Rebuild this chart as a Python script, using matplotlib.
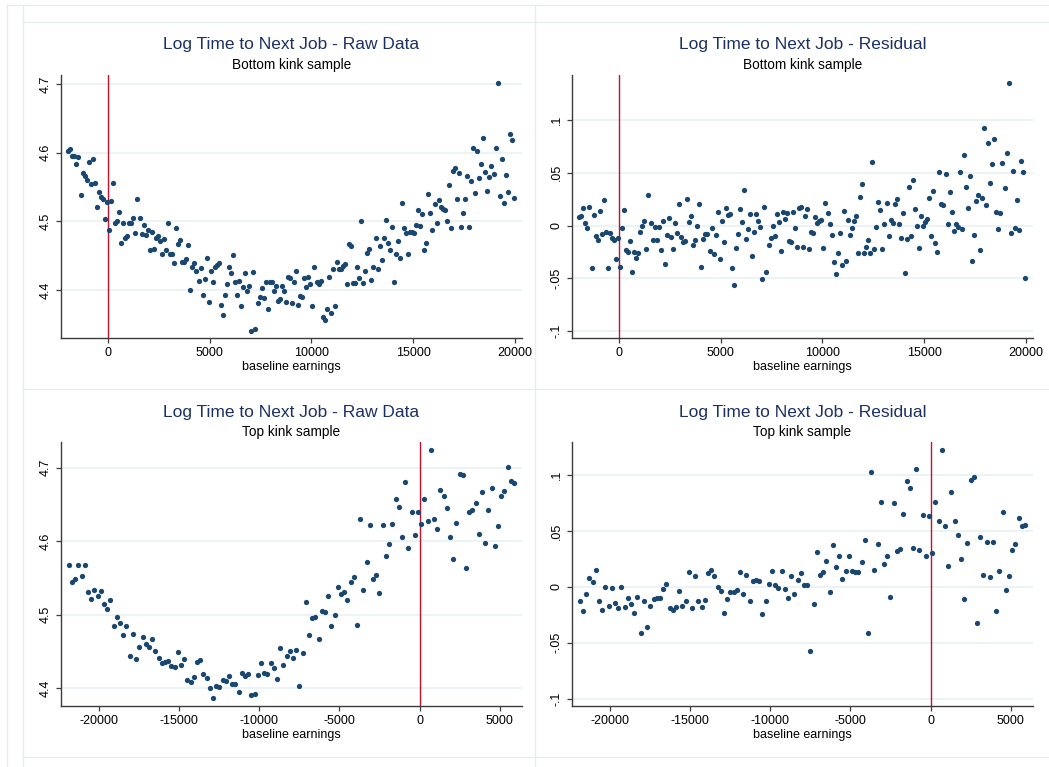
import matplotlib.pyplot as plt
from matplotlib.lines import Line2D

plt.rcParams['font.family'] = ['Liberation Sans', 'DejaVu Sans']

# ---- data ----
# bottom kink sample: bin midpoints of baseline earnings
x_bottom = [
    -1950, -1850, -1750, -1650, -1550, -1450, -1350, -1250, -1150, -1050,
    -950, -850, -750, -650, -550, -450, -350, -250, -150, -50,
    50, 150, 250, 350, 450, 550, 650, 750, 850, 950,
    1050, 1150, 1250, 1350, 1450, 1550, 1650, 1750, 1850, 1950,
    2050, 2150, 2250, 2350, 2450, 2550, 2650, 2750, 2850, 2950,
    3050, 3150, 3250, 3350, 3450, 3550, 3650, 3750, 3850, 3950,
    4050, 4150, 4250, 4350, 4450, 4550, 4650, 4750, 4850, 4950,
    5050, 5150, 5250, 5350, 5450, 5550, 5650, 5750, 5850, 5950,
    6050, 6150, 6250, 6350, 6450, 6550, 6650, 6750, 6850, 6950,
    7050, 7150, 7250, 7350, 7450, 7550, 7650, 7750, 7850, 7950,
    8050, 8150, 8250, 8350, 8450, 8550, 8650, 8750, 8850, 8950,
    9050, 9150, 9250, 9350, 9450, 9550, 9650, 9750, 9850, 9950,
    10050, 10150, 10250, 10350, 10450, 10550, 10650, 10750, 10850, 10950,
    11050, 11150, 11250, 11350, 11450, 11550, 11650, 11750, 11850, 11950,
    12050, 12150, 12250, 12350, 12450, 12550, 12650, 12750, 12850, 12950,
    13050, 13150, 13250, 13350, 13450, 13550, 13650, 13750, 13850, 13950,
    14050, 14150, 14250, 14350, 14450, 14550, 14650, 14750, 14850, 14950,
    15050, 15150, 15250, 15350, 15450, 15550, 15650, 15750, 15850, 15950,
    16050, 16150, 16250, 16350, 16450, 16550, 16650, 16750, 16850, 16950,
    17050, 17150, 17250, 17350, 17450, 17550, 17650, 17750, 17850, 17950,
    18050, 18150, 18250, 18350, 18450, 18550, 18650, 18750, 18850, 18950,
    19050, 19150, 19250, 19350, 19450, 19550, 19650, 19750, 19850, 19950,
]

raw_bottom = [
    4.603, 4.605, 4.595, 4.595, 4.583, 4.593, 4.538, 4.571, 4.566, 4.560,
    4.586, 4.554, 4.590, 4.555, 4.521, 4.542, 4.535, 4.533, 4.503, 4.528,
    4.487, 4.530, 4.556, 4.497, 4.501, 4.513, 4.468, 4.497, 4.476, 4.479,
    4.498, 4.498, 4.505, 4.483, 4.532, 4.505, 4.482, 4.494, 4.480, 4.487,
    4.458, 4.484, 4.460, 4.475, 4.478, 4.471, 4.452, 4.474, 4.458, 4.498,
    4.452, 4.452, 4.439, 4.490, 4.467, 4.473, 4.440, 4.441, 4.445, 4.466,
    4.400, 4.433, 4.439, 4.428, 4.413, 4.432, 4.392, 4.416, 4.447, 4.383,
    4.428, 4.411, 4.434, 4.436, 4.439, 4.378, 4.364, 4.392, 4.409, 4.433,
    4.425, 4.451, 4.412, 4.392, 4.413, 4.376, 4.404, 4.424, 4.399, 4.405,
    4.340, 4.426, 4.343, 4.381, 4.390, 4.403, 4.388, 4.411, 4.372, 4.412,
    4.412, 4.399, 4.406, 4.384, 4.387, 4.405, 4.399, 4.383, 4.419,
    4.417, 4.381, 4.411, 4.427, 4.378, 4.391, 4.389, 4.417, 4.404, 4.419,
    4.408, 4.377, 4.434, 4.412, 4.408, 4.413, 4.361, 4.356, 4.372, 4.419,
    4.367, 4.430, 4.377, 4.440, 4.430, 4.431, 4.435, 4.438, 4.408, 4.467,
    4.464, 4.410, 4.410, 4.434, 4.417, 4.500, 4.410, 4.427, 4.454, 4.460,
    4.414, 4.433, 4.475, 4.430, 4.464, 4.443, 4.475, 4.502, 4.468, 4.458,
    4.491, 4.412, 4.453, 4.471, 4.446, 4.527, 4.490, 4.483, 4.452, 4.484,
    4.485, 4.483, 4.494, 4.516, 4.493, 4.510, 4.458, 4.468, 4.539, 4.512,
    4.488, 4.525, 4.497, 4.531, 4.521, 4.518, 4.516, 4.501, 4.553, 4.490,
    4.573, 4.577, 4.533, 4.570, 4.491, 4.512, 4.533, 4.566, 4.492, 4.558,
    4.606, 4.541, 4.602, 4.563, 4.584, 4.621, 4.572, 4.544, 4.565, 4.581,
    4.569, 4.606, 4.701, 4.537, 4.590, 4.526, 4.567, 4.542, 4.627, 4.619,
    4.534,
]

resid_bottom = [
    0.008, 0.009, 0.017, 0.002, -0.002, 0.018, -0.040, 0.010, -0.010, -0.014,
    0.014, -0.008, 0.024, -0.006, -0.040, -0.007, -0.012, -0.014, -0.032, -0.012,
    -0.039, -0.002, 0.015, -0.023, -0.025, -0.015, -0.044, -0.025, -0.031, -0.026,
    -0.006, 0.000, 0.004, -0.022, 0.029, 0.002, -0.014, -0.001, -0.014, -0.001,
    -0.023, 0.004, -0.036, -0.009, 0.007, -0.011, -0.022, 0.002, -0.007, 0.020,
    -0.011, -0.016, -0.015, 0.025, 0.003, 0.009, -0.018, -0.014, 0.000, 0.020,
    -0.039, -0.013, -0.008, -0.008, -0.024, -0.002, -0.027, -0.009, 0.013, -0.032,
    0.004, -0.016, 0.017, 0.010, 0.011, -0.040, -0.056, -0.021, -0.008, 0.016,
    0.003, 0.034, -0.013, -0.003, 0.011, -0.029, -0.006, 0.011, 0.004, -0.001,
    -0.051, 0.018, -0.044, -0.018, -0.012, 0.000, -0.010, 0.011, 0.003, -0.024,
    0.013, 0.006, 0.012, -0.015, -0.016, 0.013, -0.002, -0.020, 0.017,
    0.018, -0.020, 0.009, 0.016, -0.022, -0.006, -0.007, 0.008, 0.002, 0.004,
    0.005, -0.021, 0.021, 0.012, 0.001, -0.009, -0.035, -0.046, -0.026, -0.007,
    -0.037, 0.014, -0.034, 0.005, -0.009, -0.002, 0.004, 0.009, -0.026, 0.027,
    0.039, -0.026, -0.020, -0.014, -0.026, 0.060, -0.022, -0.001, 0.022, 0.015,
    -0.022, 0.001, 0.021, -0.010, 0.005, 0.002, 0.020, 0.025, 0.001, -0.012,
    0.012, -0.045, -0.013, 0.037, -0.010, 0.043, 0.016, 0.000, -0.021, 0.009,
    0.000, 0.003, 0.006, 0.026, -0.010, 0.033, -0.017, -0.025, 0.051, 0.020,
    0.019, 0.049, 0.001, 0.032, 0.013, -0.005, 0.001, -0.001, 0.051, -0.003,
    0.067, 0.037, 0.017, 0.047, -0.034, -0.009, 0.023, 0.029, -0.023, 0.026,
    0.092, 0.019, 0.078, 0.040, 0.058, 0.082, 0.013, -0.003, 0.012, 0.059,
    0.036, 0.069, 0.135, -0.007, 0.052, -0.002, 0.024, -0.004, 0.061, 0.051,
    -0.050,
]

# top kink sample: bin midpoints of baseline earnings
x_top = [
    -21900, -21700, -21500, -21300, -21100, -20900, -20700, -20500, -20300, -20100,
    -19900, -19700, -19500, -19300, -19100, -18900, -18700, -18500, -18300, -18100,
    -17900, -17700, -17500, -17300, -17100, -16900, -16700, -16500, -16300, -16100,
    -15900, -15700, -15500, -15300, -15100, -14900, -14700, -14500, -14300, -14100,
    -13900, -13700, -13500, -13300, -13100, -12900, -12700, -12500, -12300, -12100,
    -11900, -11700, -11500, -11300, -11100, -10900, -10700, -10500, -10300, -10100,
    -9900, -9700, -9500, -9300, -9100, -8900, -8700, -8500, -8300, -8100,
    -7900, -7700, -7500, -7300, -7100, -6900, -6700, -6500, -6300, -6100,
    -5900, -5700, -5500, -5300, -5100, -4900, -4700, -4500, -4300, -4100,
    -3900, -3700, -3500, -3300, -3100, -2900, -2700, -2500, -2300, -2100,
    -1900, -1700, -1500, -1300, -1100, -900, -700, -500, -300, -100,
    100, 300, 500, 700, 900, 1100, 1300, 1500, 1700, 1900,
    2100, 2300, 2500, 2700, 2900, 3100, 3300, 3500, 3700, 3900,
    4100, 4300, 4500, 4700, 4900, 5100, 5300, 5500, 5700, 5900,
]

raw_top = [
    4.568, 4.544, 4.549, 4.568, 4.552, 4.567, 4.531, 4.521, 4.533, 4.525,
    4.532, 4.515, 4.508, 4.520, 4.484, 4.497, 4.489, 4.472, 4.485, 4.443,
    4.474, 4.440, 4.456, 4.469, 4.460, 4.456, 4.467, 4.451, 4.441, 4.434,
    4.435, 4.437, 4.430, 4.429, 4.449, 4.431, 4.440, 4.411, 4.408, 4.415,
    4.435, 4.438, 4.419, 4.414, 4.400, 4.386, 4.403, 4.401, 4.411, 4.410,
    4.416, 4.406, 4.406, 4.395, 4.420, 4.417, 4.419, 4.390, 4.392, 4.418,
    4.434, 4.421, 4.419, 4.434, 4.427, 4.412, 4.455, 4.431, 4.443, 4.451,
    4.441, 4.452, 4.403, 4.447, 4.517, 4.472, 4.495, 4.497, 4.467, 4.505,
    4.503, 4.525, 4.485, 4.500, 4.538, 4.528, 4.531, 4.520, 4.545, 4.551,
    4.486, 4.630, 4.534, 4.571, 4.622, 4.549, 4.554, 4.530, 4.622, 4.580,
    4.596, 4.624, 4.657, 4.646, 4.606, 4.680, 4.591, 4.639, 4.608, 4.640,
    4.624, 4.658, 4.628, 4.724, 4.630, 4.616, 4.669, 4.661, 4.645, 4.605,
    4.575, 4.625, 4.691, 4.690, 4.564, 4.640, 4.643, 4.652, 4.610, 4.667,
    4.597, 4.642, 4.672, 4.593, 4.620, 4.661, 4.668, 4.701, 4.682, 4.679,
]

resid_top = [
    -0.013, -0.022, -0.006, 0.008, 0.004, 0.015, -0.013, -0.021, 0.000, -0.017,
    -0.001, -0.014, -0.019, 0.000, -0.018, -0.010, -0.015, -0.023, -0.009, -0.041,
    -0.013, -0.036, -0.017, -0.011, -0.010, -0.010, -0.002, 0.003, -0.019, -0.021,
    -0.018, -0.004, -0.017, -0.013, 0.013, -0.019, 0.010, -0.013, -0.018, -0.012,
    0.012, 0.015, 0.010, 0.000, -0.004, -0.023, -0.011, -0.005, -0.005, -0.003,
    0.013, -0.006, 0.011, -0.013, 0.005, 0.006, 0.005, -0.024, -0.013, 0.003,
    0.014, 0.002, -0.001, 0.014, -0.002, -0.010, 0.010, -0.006, 0.006, 0.012,
    0.002, 0.002, -0.057, -0.015, 0.031, 0.011, 0.013, 0.023, -0.005, 0.037,
    0.018, 0.028, 0.007, 0.014, 0.028, 0.014, 0.013, 0.013, 0.022, 0.042,
    -0.041, 0.103, 0.015, 0.038, 0.076, 0.020, 0.028, -0.009, 0.075, 0.032,
    0.034, 0.065, 0.095, 0.088, 0.035, 0.105, 0.033, 0.064, 0.028, 0.063,
    0.030, 0.076, 0.059, 0.122, 0.054, 0.019, 0.085, 0.059, 0.046, 0.025,
    -0.011, 0.039, 0.096, 0.098, -0.032, 0.045, 0.011, 0.040, 0.009, 0.040,
    -0.022, 0.014, 0.067, -0.003, 0.010, 0.033, 0.038, 0.062, 0.054, 0.055,
]

raw_ticks = [4.4, 4.5, 4.6, 4.7]
raw_labels = ['4.4', '4.5', '4.6', '4.7']
resid_ticks = [-0.1, -0.05, 0, 0.05, 0.1]
resid_labels = ['-.1', '-.05', '0', '.05', '.1']
bottom_xticks = [0, 5000, 10000, 15000, 20000]
top_xticks = [-20000, -15000, -10000, -5000, 0, 5000]

# ---- styling ----
W, H = 1049, 767
NAVY = '#1a476f'
TITLE_COLOR = '#1c3162'
RED = '#c8102e'
GRID = '#e9f1f2'
FRAME = '#e6eded'
AXIS = '#3c3c3c'


def add_axes_px(fig, left, top, right, bottom):
    return fig.add_axes([left / W, 1 - bottom / H, (right - left) / W, (bottom - top) / H])


def draw_panel(fig, box, x, y, xlim, ylim, xticks, yticks, ylabels, title, subtitle):
    left, top, right, bottom = box
    ax = add_axes_px(fig, left, top, right, bottom)
    ax.axvline(0, color=RED, lw=1.0, zorder=2)
    ax.plot(x, y, 'o', ms=3.8, color=NAVY, mec='none', zorder=3)
    ax.set_xlim(xlim)
    ax.set_ylim(ylim)
    ax.set_xticks(xticks)
    ax.set_xticklabels([str(t) for t in xticks])
    ax.set_yticks(yticks)
    ax.set_yticklabels(ylabels, rotation=90, va='center')
    ax.yaxis.grid(True, color=GRID, lw=1.2)
    ax.set_axisbelow(True)
    for side in ['top', 'right']:
        ax.spines[side].set_visible(False)
    for side in ['left', 'bottom']:
        ax.spines[side].set_color(AXIS)
        ax.spines[side].set_linewidth(1.0)
    ax.tick_params(axis='both', direction='out', length=3.8, width=0.9, color=AXIS,
                   labelsize=9, labelcolor='black', pad=3)
    ax.set_xlabel('baseline earnings', fontsize=9, labelpad=1)

    cx = (left + right) / 2 / W
    fig.text(cx, 1 - (top - 30) / H, title, ha='center', va='center',
             fontsize=12.5, color=TITLE_COLOR)
    fig.text(cx, 1 - (top - 10) / H, subtitle, ha='center', va='center',
             fontsize=9.8, color='black')
    return ax


fig = plt.figure(figsize=(W / 100, H / 100), dpi=100)

# light frames around the combined graph and each panel
for xp in [7, 23, 535]:
    fig.add_artist(Line2D([xp / W, xp / W], [0, 1 - 5 / H], color=FRAME, lw=1.0))
for yp in [5, 22, 389, 757]:
    x0 = 7 if yp == 5 else 23
    fig.add_artist(Line2D([x0 / W, 1], [1 - yp / H, 1 - yp / H], color=FRAME, lw=1.0))

draw_panel(fig, (61, 75, 522, 338), x_bottom, raw_bottom, (-2310, 20350), (4.330, 4.713),
           bottom_xticks, raw_ticks, raw_labels,
           'Log Time to Next Job - Raw Data', 'Bottom kink sample')
draw_panel(fig, (572, 75, 1033, 338), x_bottom, resid_bottom, (-2310, 20350), (-0.1066, 0.1427),
           bottom_xticks, resid_ticks, resid_labels,
           'Log Time to Next Job - Residual', 'Bottom kink sample')
draw_panel(fig, (61, 442, 522, 706), x_top, raw_top, (-22390, 6400), (4.3755, 4.735),
           top_xticks, raw_ticks, raw_labels,
           'Log Time to Next Job - Raw Data', 'Top kink sample')
draw_panel(fig, (572, 442, 1033, 706), x_top, resid_top, (-22390, 6400), (-0.1066, 0.1296),
           top_xticks, resid_ticks, resid_labels,
           'Log Time to Next Job - Residual', 'Top kink sample')

fig.savefig('out.png', dpi=100, facecolor='white')
